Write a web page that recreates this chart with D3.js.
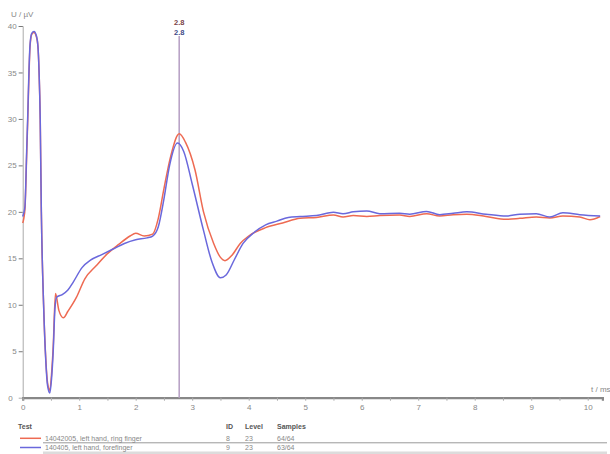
<!DOCTYPE html>
<html>
<head>
<meta charset="utf-8">
<script src="https://cdn.jsdelivr.net/npm/d3@7"></script>
<style>
  body { margin: 0; background: #fff; }
  svg { display: block; font-family: "Liberation Sans", Arial, sans-serif; }
</style>
</head>
<body>
<svg id="chart" width="610" height="454"></svg>
<script>
// Time axis (ms) and voltages (uV)
const t_ring = [0, 0.02, 0.04, 0.07, 0.09, 0.11, 0.13, 0.16, 0.2, 0.24, 0.27, 0.29, 0.31, 0.33, 0.37, 0.41, 0.44, 0.48,
  0.51, 0.54, 0.58, 0.64, 0.72, 0.8, 0.95, 1.1, 1.3, 1.5, 1.7, 1.9, 2.0, 2.15, 2.3, 2.4, 2.5, 2.62, 2.77, 2.88, 3.05,
  3.2, 3.38, 3.5, 3.58, 3.7, 3.85, 4.0, 4.3, 4.6, 4.91, 5.2, 5.5, 5.67, 5.85, 6.09, 6.32, 6.67, 6.85, 7.15, 7.38,
  7.62, 7.86, 8.2, 8.56, 8.8, 9.09, 9.33, 9.56, 9.86, 10.04, 10.22]
const u_ring = [18.8, 19.3, 20.3, 26, 30, 34.5, 37.8, 39.1, 39.3, 38.9, 37.8, 35, 30, 20, 10, 4, 1.6, 0.8,
  2.5, 5.5, 11.2, 9.4, 8.6, 9.3, 10.8, 12.8, 14.2, 15.5, 16.5, 17.4, 17.7, 17.4, 17.6, 19.3, 22.5, 26, 28.4, 27.5, 24.5,
  20, 16.6, 15.1, 14.75, 15.3, 16.6, 17.4, 18.3, 18.8, 19.3, 19.4, 19.65, 19.45, 19.6, 19.5, 19.6, 19.65, 19.5, 19.8, 19.55,
  19.7, 19.75, 19.5, 19.2, 19.3, 19.45, 19.35, 19.55, 19.45, 19.15, 19.5]

const t_fore = [0, 0.02, 0.04, 0.07, 0.09, 0.11, 0.13, 0.16, 0.2, 0.24, 0.27, 0.29, 0.31, 0.33, 0.37, 0.41, 0.44, 0.48,
  0.51, 0.54, 0.57, 0.6, 0.7, 0.8, 0.9, 1.05, 1.2, 1.4, 1.6, 1.8, 2.0, 2.2, 2.3, 2.4, 2.5, 2.6, 2.74, 2.85, 3.0,
  3.2, 3.35, 3.5, 3.6, 3.75, 3.9, 4.1, 4.3, 4.5, 4.7, 4.91, 5.2, 5.5, 5.67, 5.85, 6.09, 6.32, 6.67, 6.85, 7.15, 7.38,
  7.62, 7.86, 8.2, 8.56, 8.8, 9.09, 9.33, 9.56, 9.86, 10.22]
const u_fore = [19.5, 19.9, 20.6, 26.5, 30.5, 35, 38, 39.2, 39.4, 39, 37.8, 35, 30, 20, 10, 3.8, 1.3, 0.5,
  2, 5, 9.5, 10.8, 11.1, 11.6, 12.5, 14, 14.8, 15.4, 16, 16.6, 17.0, 17.2, 17.4, 18.4, 21.4, 25, 27.4, 26.5, 23,
  18, 14.6, 12.9, 13.2, 14.9, 16.6, 17.8, 18.6, 19.0, 19.4, 19.5, 19.6, 19.95, 19.8, 20.0, 20.1, 19.8, 19.85, 19.75, 20.05, 19.7,
  19.85, 20.0, 19.75, 19.55, 19.75, 19.8, 19.45, 19.9, 19.7, 19.55]

const y_ticks = [0, 5, 10, 15, 20, 25, 30, 35, 40]
const cursor_t = 2.77
const cursor_labels = ['2.8', '2.8']

const legend_header = ['Test', 'ID', 'Level', 'Samples']
const legend_names = ['14042005, left hand, ring finger', '140405, left hand, forefinger']
const legend_ids = ['8', '9']
const legend_levels = ['23', '23']
const legend_samples = ['64/64', '63/64']
const series_colors = ['#ee6a52', '#6a68dc']

const svg = d3.select('#chart')

const x = d3.scaleLinear().domain([0, 10.26]).range([22.7, 602.4])
const y = d3.scaleLinear().domain([0, 40]).range([397.7, 26])

// Y axis
const y_axis = svg.append('g')
  .attr('transform', `translate(${x(0)},0)`)
  .call(d3.axisLeft(y).tickValues(y_ticks).tickSize(4).tickPadding(2))
y_axis.select('.domain').attr('stroke', '#aaa').attr('stroke-width', 1)
y_axis.selectAll('.tick line').attr('stroke', '#777')
y_axis.selectAll('.tick text')
  .attr('fill', '#888')
  .style('font-size', '8px')
y_axis.selectAll('.tick')
  .filter(d => d === 0)
  .select('text')
  .attr('x', -10)
y_axis.selectAll('.tick')
  .filter(d => d === 0)
  .select('line')
  .remove()

// X axis, minor ticks every 0.5 ms
const x_axis = svg.append('g')
  .attr('transform', `translate(0,${y(0)})`)
  .call(d3.axisBottom(x).tickValues(d3.range(0, 10.01, 0.5)).tickSize(3).tickPadding(4)
    .tickFormat(d => Number.isInteger(d) ? d : ''))
x_axis.select('.domain').attr('stroke', '#888').attr('stroke-width', 2.2)
x_axis.selectAll('.tick line').attr('stroke', '#aaa')
x_axis.selectAll('.tick text')
  .attr('fill', '#888')
  .style('font-size', '8px')

// Axis titles
svg.append('text')
  .attr('x', 11).attr('y', 17)
  .attr('fill', '#888')
  .style('font-size', '8px')
  .text('U / \u00b5V')
svg.append('text')
  .attr('x', 591).attr('y', 392)
  .attr('fill', '#888')
  .style('font-size', '8px')
  .text('t / ms')

// Cursor
svg.append('line')
  .attr('x1', x(cursor_t)).attr('x2', x(cursor_t))
  .attr('y1', 36).attr('y2', y(0))
  .attr('stroke', '#b9a3c6')
  .attr('stroke-width', 1.6)
svg.selectAll('.cursor-label')
  .data(cursor_labels)
  .enter()
  .append('text')
  .attr('class', 'cursor-label')
  .attr('x', x(cursor_t))
  .attr('y', (d, i) => 24.5 + i * 10.5)
  .attr('text-anchor', 'middle')
  .attr('fill', (d, i) => i === 0 ? '#7a3f46' : '#3f4a86')
  .style('font-size', '7.5px')
  .style('font-weight', 'bold')
  .text(d => d)

// Curves
const line = d3.line()
  .x(d => x(d[0]))
  .y(d => y(d[1]))
  .curve(d3.curveMonotoneX)

const series = [
  d3.zip(t_ring, u_ring),
  d3.zip(t_fore, u_fore)
]

svg.selectAll('.curve')
  .data(series)
  .enter()
  .append('path')
  .attr('class', 'curve')
  .attr('d', d => line(d))
  .attr('fill', 'none')
  .attr('stroke', (d, i) => series_colors[i])
  .attr('stroke-width', 1.5)
  .attr('stroke-linejoin', 'round')

// Legend
const col_x = [18, 226, 245, 277]
const legend = svg.append('g').style('font-size', '7px')

legend.selectAll('.legend-head')
  .data(legend_header)
  .enter()
  .append('text')
  .attr('class', 'legend-head')
  .attr('x', (d, i) => col_x[i])
  .attr('y', 428.5)
  .attr('fill', '#555')
  .style('font-weight', 'bold')
  .text(d => d)

legend.append('line')
  .attr('x1', 43).attr('x2', 607)
  .attr('y1', 442.8).attr('y2', 442.8)
  .attr('stroke', '#999')
  .attr('stroke-width', 1)
legend.append('rect')
  .attr('x', 43).attr('y', 451.5)
  .attr('width', 564).attr('height', 3)
  .attr('fill', '#dcdcdc')

legend_names.forEach((name, i) => {
  let row_y = 438.3 + i * 9.2
  legend.append('line')
    .attr('x1', 20).attr('x2', 41)
    .attr('y1', row_y).attr('y2', row_y)
    .attr('stroke', series_colors[i])
    .attr('stroke-width', 1.5)
  let cells = [name, legend_ids[i], legend_levels[i], legend_samples[i]]
  let cell_x = [45, col_x[1], col_x[2], col_x[3]]
  cells.forEach((c, j) => {
    legend.append('text')
      .attr('x', cell_x[j])
      .attr('y', row_y + 2.5)
      .attr('fill', '#888')
      .text(c)
  })
})
</script>
</body>
</html>
